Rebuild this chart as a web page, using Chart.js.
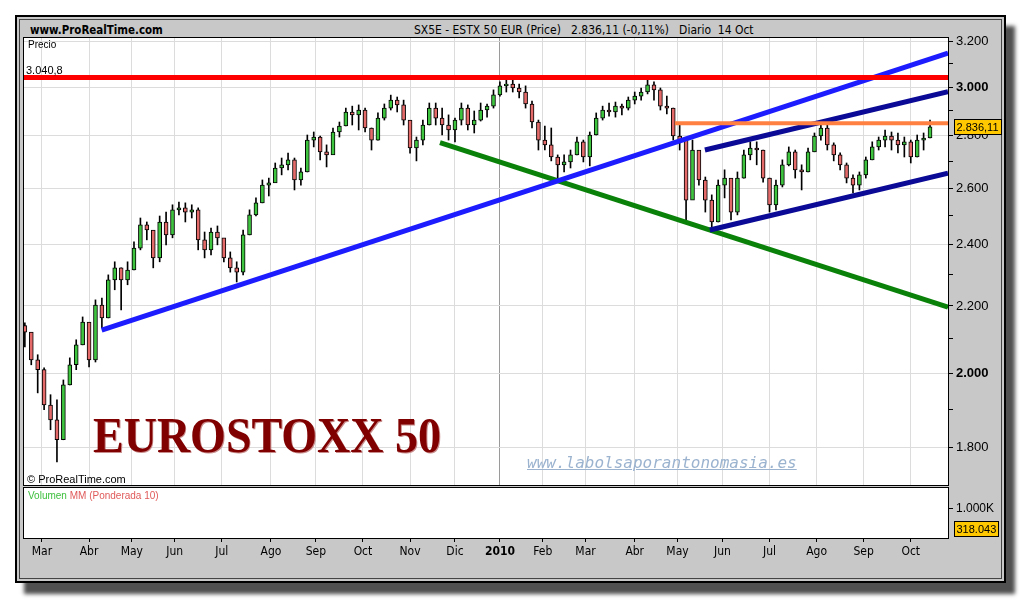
<!DOCTYPE html>
<html>
<head>
<meta charset="utf-8">
<script src="https://cdn.jsdelivr.net/npm/chart.js@4.4.1/dist/chart.umd.min.js"></script>
<style>
    body { margin: 0; width: 1020px; height: 600px; overflow: hidden; background: #fff; font-family: 'Liberation Sans', Arial, sans-serif; }
    .panel { position: absolute; left: 15px; top: 15px; width: 987px; height: 564px; border: 2px solid #000; background: #c8c8c8; box-shadow: 9px 11px 4px #505050; }
    .panel__inner { position: absolute; left: 2px; top: 2px; right: 2px; bottom: 2px; border: 1px solid #444; }
    canvas { position: absolute; left: 0; }
    #price { top: 0; }
    #volume { top: 487px; }
    .txt { position: absolute; white-space: nowrap; line-height: 1; transform-origin: left top; }
    .narrow { font-family: 'Liberation Sans Narrow', 'DejaVu Sans Condensed', 'Liberation Sans', sans-serif; }
    .logo { left: 93px; top: 410px; font: bold 50px/50px 'Liberation Serif', serif; color: #800000; transform: scaleX(0.92); text-shadow: 1px 1px 0 #c98c8c; }
    .site { left: 527px; top: 455px; font: oblique 16px/16px 'DejaVu Sans Mono', monospace; color: #9bb3cf; text-decoration: underline; }
</style>
</head>
<body>
<div class="panel"><div class="panel__inner"></div></div>

<div class="txt narrow" style="left:30px;top:23px;font-size:13px;font-weight:bold;transform:scaleX(0.88);">www.ProRealTime.com</div>
<div class="txt narrow" style="left:414px;top:23px;font-size:13px;transform:scaleX(0.92);">SX5E - ESTX 50 EUR (Price)&nbsp;&nbsp;&nbsp;2.836,11 (-0,11%)&nbsp;&nbsp;&nbsp;Diario&nbsp;&nbsp;14 Oct</div>

<canvas id="price" width="1020" height="487"></canvas>
<canvas id="volume" width="1020" height="75"></canvas>

<div class="txt" style="left:28px;top:40px;font-size:10px;">Precio</div>
<div class="txt" style="left:26px;top:65px;font-size:11px;">3.040,8</div>
<div class="txt" style="left:27px;top:474px;font-size:11px;">© ProRealTime.com</div>
<div class="txt" style="left:28px;top:491px;font-size:10px;"><span style="color:#3cbf3c">Volumen</span> <span style="color:#e05a5a">MM (Ponderada 10)</span></div>
<div class="txt logo">EUROSTOXX 50</div>
<div class="txt site">www.labolsaporantonomasia.es</div>

<script>
// trading-day index of the first candle, one candle every 3 sessions (Feb 2009 - 14 Oct 2010)
const firstDay = -3;
const dayStep = 3;
const firstOpen = 2140;

const closes = [
    2120, 2038, 2010, 1912, 1872, 1820, 1967, 2024, 2082, 2150,
    2038, 2203, 2163, 2283, 2322, 2283, 2315, 2388, 2468, 2450,
    2355, 2478, 2433, 2521, 2528, 2513, 2521, 2416, 2382, 2443,
    2423, 2355, 2322, 2308, 2433, 2503, 2546, 2611, 2619, 2675,
    2687, 2706, 2630, 2660, 2783, 2795, 2737, 2725, 2815, 2839,
    2896, 2884, 2904, 2831, 2783, 2871, 2912, 2945, 2925, 2863,
    2752, 2783, 2843, 2912, 2871, 2843, 2823, 2863, 2912, 2843,
    2863, 2904, 2920, 2967, 3005, 3013, 2996, 2979, 2929, 2855,
    2783, 2764, 2717, 2687, 2698, 2725, 2776, 2717, 2803, 2871,
    2904, 2896, 2920, 2912, 2945, 2962, 2979, 3009, 2988, 2920,
    2912, 2799, 2783, 2556, 2744, 2630, 2556, 2478, 2611, 2637,
    2513, 2637, 2725, 2752, 2744, 2637, 2539, 2611, 2687, 2737,
    2668, 2660, 2737, 2799, 2831, 2764, 2725, 2687, 2637, 2611,
    2649, 2706, 2756, 2783, 2799, 2783, 2764, 2776, 2717, 2783,
    2791, 2836.11
];

const highs = [
    2148, 2112, 2053, 2015, 1940, 1926, 1981, 2044, 2097, 2166,
    2142, 2219, 2225, 2299, 2342, 2322, 2342, 2409, 2492, 2478,
    2443, 2499, 2513, 2539, 2549, 2546, 2539, 2528, 2443, 2457,
    2464, 2416, 2375, 2342, 2450, 2521, 2564, 2630, 2637, 2694,
    2713, 2732, 2713, 2675, 2803, 2815, 2799, 2764, 2831, 2855,
    2912, 2920, 2925, 2912, 2831, 2892, 2929, 2966, 2958, 2945,
    2855, 2795, 2863, 2933, 2933, 2912, 2884, 2871, 2933, 2925,
    2900, 2933, 2929, 2988, 3022, 3035, 3030, 3013, 3005, 2941,
    2863, 2839, 2831, 2725, 2725, 2744, 2795, 2783, 2815, 2892,
    2920, 2933, 2937, 2929, 2958, 2979, 2996, 3030, 3022, 2996,
    2962, 2912, 2843, 2744, 2783, 2737, 2641, 2575, 2630, 2668,
    2611, 2660, 2744, 2776, 2776, 2744, 2637, 2630, 2706, 2756,
    2744, 2687, 2752, 2811, 2851, 2843, 2772, 2733, 2694, 2649,
    2660, 2717, 2776, 2795, 2823, 2815, 2811, 2795, 2783, 2803,
    2811, 2863
];

const lows = [
    2076, 2024, 1945, 1899, 1846, 1764, 1820, 1967, 2010, 2082,
    2018, 2032, 2133, 2163, 2251, 2188, 2267, 2315, 2382, 2416,
    2322, 2342, 2399, 2423, 2503, 2478, 2492, 2382, 2355, 2365,
    2399, 2342, 2308, 2276, 2299, 2433, 2499, 2546, 2571, 2626,
    2649, 2668, 2593, 2611, 2660, 2756, 2706, 2679, 2737, 2795,
    2839, 2843, 2823, 2815, 2744, 2783, 2863, 2904, 2896, 2843,
    2732, 2702, 2764, 2843, 2843, 2803, 2783, 2776, 2843, 2823,
    2811, 2859, 2875, 2912, 2962, 2979, 2979, 2954, 2912, 2831,
    2744, 2744, 2702, 2630, 2660, 2675, 2725, 2698, 2683, 2803,
    2863, 2879, 2875, 2884, 2904, 2929, 2945, 2971, 2945, 2904,
    2888, 2783, 2744, 2478, 2593, 2611, 2513, 2450, 2478, 2564,
    2485, 2503, 2637, 2706, 2687, 2622, 2513, 2521, 2604, 2683,
    2637, 2593, 2660, 2737, 2783, 2744, 2702, 2668, 2619, 2582,
    2593, 2637, 2706, 2744, 2756, 2744, 2733, 2717, 2694, 2717,
    2744, 2791
];

const monthDays = [5, 27, 47, 67, 89, 112, 133, 155, 177, 198, 219, 239, 259, 282, 302, 323, 345, 367, 389, 411];
const monthLabels = ['Mar', 'Abr', 'May', 'Jun', 'Jul', 'Ago', 'Sep', 'Oct', 'Nov', 'Dic', '2010', 'Feb', 'Mar', 'Abr', 'May', 'Jun', 'Jul', 'Ago', 'Sep', 'Oct'];
const priceTicks = [1800, 1900, 2000, 2100, 2200, 2300, 2400, 2500, 2600, 2700, 2800, 2900, 3000, 3100, 3200];

// hand drawn lines: [day, price]
const blueTrend = [[32.9, 2126], [428.4, 3148]];
const greenTrend = [[191, 2773], [428.4, 2196]];
const channelTop = [[314.8, 2744], [428.4, 2980]];
const channelBottom = [[317.1, 2450], [428.4, 2655]];
const resistance = [[-3.4, 3040.8], [428.4, 3040.8]];
const lastHigh = [[300.8, 2850], [428.4, 2850]];

const volumeTick = 1000000;
const lastVolume = 318043;

const xMin = -3.4, xMax = 428.4;
const upColor = '#3ec43e', downColor = '#e46a6a';

Chart.defaults.font.family = "'Liberation Sans', Arial, sans-serif";
Chart.defaults.font.size = 12;
Chart.defaults.color = '#000';
Chart.defaults.animation = false;

function thousands(v) {
    return String(v).replace(/\B(?=(\d{3})+(?!\d))/g, '.');
}

function candleData() {
    let bodies = [], wicks = [], colors = [];
    closes.forEach(function (c, i) {
        let day = firstDay + i * dayStep;
        let o = i === 0 ? firstOpen : closes[i - 1];
        wicks.push({x: day, y: [lows[i], highs[i]]});
        bodies.push({x: day, y: [o, c]});
        colors.push(c >= o ? upColor : downColor);
    });
    return {bodies, wicks, colors};
}

function trendSet(points, color, width) {
    return {
        type: 'line',
        data: points.map(p => ({x: p[0], y: p[1]})),
        borderColor: color,
        borderWidth: width,
        borderCapStyle: 'butt',
        pointRadius: 0,
        order: 0
    };
}

// no extra room for half labels: the frames must sit where the reference has them
function noPad(s) {
    s.paddingTop = 0;
    s.paddingBottom = 0;
    s.paddingLeft = 0;
    s.paddingRight = 0;
}

function drawTag(chart, value, text) {
    const ctx = chart.ctx;
    const y = Math.round(chart.scales.y.getPixelForValue(value));
    const x = Math.round(chart.chartArea.right) + 6;
    ctx.save();
    ctx.font = "11px 'Liberation Sans', Arial";
    const w = Math.ceil(ctx.measureText(text).width) + 5;
    ctx.fillStyle = '#ffc800';
    ctx.fillRect(x, y - 8, w, 16);
    ctx.strokeStyle = '#000';
    ctx.lineWidth = 1;
    ctx.strokeRect(x + 0.5, y - 7.5, w - 1, 15);
    ctx.fillStyle = '#000';
    ctx.textBaseline = 'middle';
    ctx.fillText(text, x + 2.5, y + 1);
    ctx.restore();
}

function framePlugin(value, text) {
    return {
        id: 'frame',
        beforeDraw(chart) {
            const a = chart.chartArea, ctx = chart.ctx;
            ctx.save();
            ctx.fillStyle = '#fff';
            ctx.fillRect(a.left, a.top, a.right - a.left, a.bottom - a.top);
            ctx.restore();
        },
        afterDraw(chart) {
            const a = chart.chartArea, ctx = chart.ctx;
            ctx.save();
            ctx.strokeStyle = '#000';
            ctx.lineWidth = 1;
            ctx.strokeRect(Math.round(a.left) - 0.5, Math.round(a.top) - 0.5, Math.round(a.right - a.left) + 1, Math.round(a.bottom - a.top) + 1);
            ctx.restore();
            drawTag(chart, value, text);
        }
    };
}

function priceChart() {
    const c = candleData();
    const last = closes[closes.length - 1];
    const lastText = last.toFixed(2).replace('.', ',').replace(/^(\d)(\d{3})/, '$1.$2');
    new Chart(document.getElementById('price'), {
        type: 'bar',
        data: {
            datasets: [
                trendSet(resistance, '#ff0000', 5),
                trendSet(lastHigh, '#ff8040', 4),
                trendSet(blueTrend, '#1c1cff', 5),
                trendSet(channelTop, '#0a0a96', 5),
                trendSet(channelBottom, '#0a0a96', 5),
                trendSet(greenTrend, '#0a820a', 5),
                {data: c.bodies, backgroundColor: c.colors, borderColor: '#000', borderWidth: 1, borderSkipped: false, barThickness: 4, grouped: false, order: 1},
                {data: c.wicks, backgroundColor: '#000', borderWidth: 0, barThickness: 1, grouped: false, order: 2}
            ]
        },
        options: {
            responsive: false,
            devicePixelRatio: 1,
            events: [],
            layout: {padding: {left: 24, top: 38, right: 0, bottom: 2}},
            plugins: {legend: {display: false}, tooltip: {enabled: false}},
            scales: {
                x: {
                    type: 'linear', min: xMin, max: xMax, offset: false,
                    afterBuildTicks: s => { s.ticks = monthDays.map(v => ({value: v})); },
                    afterFit: s => { s.height = 0; noPad(s); },
                    ticks: {display: false},
                    grid: {offset: false, color: ctx => ctx.tick && ctx.tick.value === 219 ? '#9a9a9a' : '#dcdcdc', drawTicks: false},
                    border: {display: false}
                },
                y: {
                    type: 'logarithmic', position: 'right', min: 1707, max: 3216,
                    afterBuildTicks: s => { s.ticks = priceTicks.map(v => ({value: v})); },
                    afterFit: s => { s.width = 72; noPad(s); },
                    ticks: {
                        autoSkip: false, padding: 3,
                        callback: v => v % 200 === 0 ? thousands(v) : '',
                        font: ctx => ({size: 13, weight: ctx.tick && ctx.tick.value % 1000 === 0 ? 'bold' : 'normal'})
                    },
                    grid: {color: ctx => ctx.tick && ctx.tick.value % 200 === 0 ? '#dcdcdc' : 'rgba(0,0,0,0)', tickColor: '#000', tickLength: 5},
                    border: {color: '#000'}
                }
            }
        },
        plugins: [framePlugin(last, lastText)]
    });
}

function volumeChart() {
    const volText = thousands(Math.floor(lastVolume / 1000)) + '.' + String(lastVolume % 1000).padStart(3, '0');
    new Chart(document.getElementById('volume'), {
        type: 'line',
        data: {datasets: []},
        options: {
            responsive: false,
            devicePixelRatio: 1,
            events: [],
            layout: {padding: {left: 24, top: 1, right: 0, bottom: 0}},
            plugins: {legend: {display: false}, tooltip: {enabled: false}},
            scales: {
                x: {
                    type: 'linear', min: xMin, max: xMax, offset: false,
                    afterBuildTicks: s => { s.ticks = monthDays.map(v => ({value: v})); },
                    afterFit: s => { s.height = 24; noPad(s); },
                    ticks: {
                        autoSkip: false, maxRotation: 0, padding: 3,
                        callback: (v, i) => monthLabels[i],
                        font: ctx => ({size: 12, weight: ctx.tick && ctx.tick.value === 219 ? 'bold' : 'normal', family: "'Liberation Sans Narrow', 'DejaVu Sans Condensed', 'Liberation Sans', sans-serif"})
                    },
                    grid: {offset: false, drawOnChartArea: false, tickColor: '#000', tickLength: 4},
                    border: {display: false}
                },
                y: {
                    type: 'linear', position: 'right', min: 0, max: 1707000,
                    afterBuildTicks: s => { s.ticks = [{value: volumeTick}]; },
                    afterFit: s => { s.width = 72; noPad(s); },
                    ticks: {padding: 3, callback: v => thousands(v / 1000) + 'K'},
                    grid: {drawOnChartArea: false, tickColor: '#000', tickLength: 5},
                    border: {color: '#000'}
                }
            }
        },
        plugins: [framePlugin(lastVolume, volText)]
    });
}

priceChart();
volumeChart();
</script>
</body>
</html>
